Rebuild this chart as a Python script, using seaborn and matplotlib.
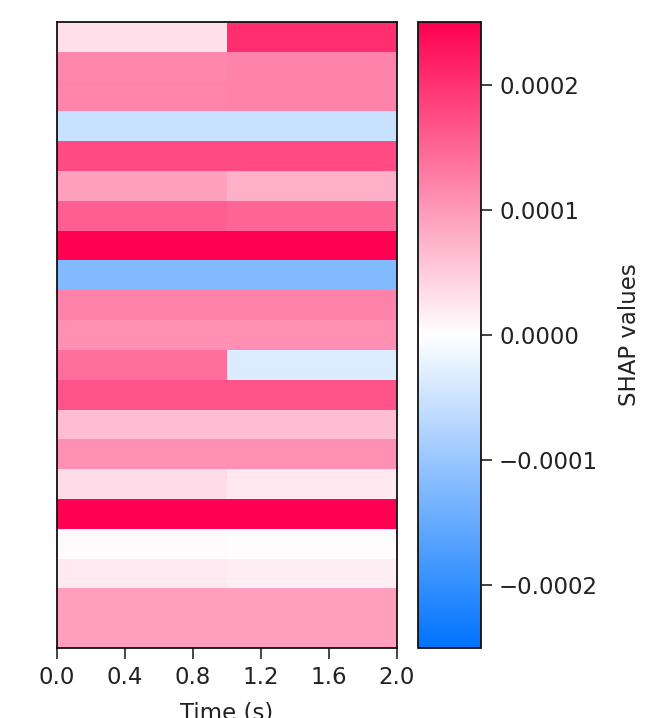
import matplotlib
matplotlib.use("Agg")
import matplotlib.pyplot as plt
import numpy as np
import seaborn as sns
from matplotlib.colors import LinearSegmentedColormap
from matplotlib.ticker import FuncFormatter

# SHAP values per row, first and second half second
shap_first = [0.000030, 0.000118, 0.000120, -0.000054, 0.000176, 0.000093, 0.000157,
              0.000250, -0.000122, 0.000122, 0.000108, 0.000142, 0.000167, 0.000064,
              0.000108, 0.000034, 0.000250, 0.000005, 0.000020, 0.000095, 0.000095]
shap_second = [0.000205, 0.000122, 0.000122, -0.000054, 0.000176, 0.000078, 0.000150,
               0.000250, -0.000122, 0.000122, 0.000108, -0.000034, 0.000167, 0.000064,
               0.000108, 0.000023, 0.000250, 0.000003, 0.000016, 0.000095, 0.000095]
time_ticks = [0.0, 0.4, 0.8, 1.2, 1.6, 2.0]
vlim = 0.00025

data = np.column_stack([shap_first, shap_second])

# blue -> white -> red, like shap's red_white_blue
cmap = LinearSegmentedColormap.from_list(
    "shap_rwb", [(0.0, 0.45, 1.0), (1, 1, 1), (1.0, 0.0, 0.32)])

sns.set_style("ticks")
plt.rcParams["font.family"] = ["DejaVu Sans"]

W, H = 667, 718
fs = 16.5
fig = plt.figure(figsize=(W / 100, H / 100), dpi=100)
ax = fig.add_axes([57 / W, 1 - 648 / H, 340 / W, 626 / H])
cax = fig.add_axes([418 / W, 1 - 648 / H, 63 / W, 626 / H])

sns.heatmap(data, ax=ax, cbar_ax=cax, cmap=cmap, vmin=-vlim, vmax=vlim,
            xticklabels=False, yticklabels=False,
            cbar_kws={"label": "SHAP values"})

ax.set_xticks(time_ticks)
ax.set_xticklabels([f"{t:.1f}" for t in time_ticks], fontsize=fs, color="#222222")
ax.tick_params(axis="x", length=8, width=1.2, pad=5)
ax.set_yticks([])
ax.set_xlabel("Time (s)", fontsize=fs, color="#222222", labelpad=9)
for sp in ax.spines.values():
    sp.set_visible(True)
    sp.set_linewidth(1.3)
    sp.set_color("#111111")

cbar = ax.collections[0].colorbar
cbar.set_ticks([-0.0002, -0.0001, 0.0, 0.0001, 0.0002])
cbar.ax.yaxis.set_major_formatter(
    FuncFormatter(lambda v, p: f"{v:.4f}".replace("-", "\u2212")))
cbar.ax.tick_params(labelsize=fs, length=8, width=1.2, colors="#222222", pad=5)
cbar.outline.set_linewidth(1.3)
cbar.outline.set_edgecolor("#111111")
cbar.set_label("SHAP values", fontsize=fs, color="#222222", labelpad=14)

fig.savefig("out.png", dpi=100)
plt.close(fig)
